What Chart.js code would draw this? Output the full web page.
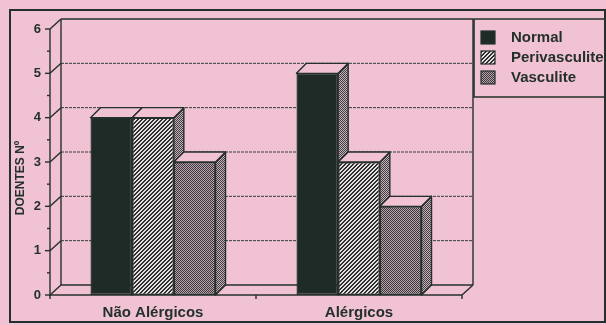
<!DOCTYPE html>
<html>
<head>
<meta charset="utf-8">
<script src="https://cdn.jsdelivr.net/npm/chart.js@4/dist/chart.umd.min.js"></script>
<style>
  html, body { margin: 0; padding: 0; background: #f0c3d3; }
  canvas { display: block; }
</style>
</head>
<body>
<canvas id="chart" width="606" height="325"></canvas>
<script>
// Patient counts per group
const categories = ['Não Alérgicos', 'Alérgicos'];
const seriesNames = ['Normal', 'Perivasculite', 'Vasculite'];
const normal = [4, 5];
const perivasculite = [4, 3];
const vasculite = [3, 2];
const yMin = 0;
const yMax = 6;
const yStep = 1;
const axisTitle = 'DOENTES Nº';

const PINK = '#f0c2d3';
const INK = '#24302b';
const FONT = '"Liberation Sans", Arial, Helvetica, sans-serif';
const WALL = { dx: 11, dy: -10 };   // depth of the back wall
const BAR = { dx: 10, dy: -10 };    // depth of each bar

function makePattern(size, paint) {
  const c = document.createElement('canvas');
  c.width = size; c.height = size;
  const g = c.getContext('2d');
  paint(g, size);
  return g.createPattern(c, 'repeat');
}
const ctx0 = document.getElementById('chart').getContext('2d');

// diagonal hatching
const hatch = makePattern(4, (g, s) => {
  g.fillStyle = '#eddbe2'; g.fillRect(0, 0, s, s);
  g.fillStyle = '#26322d';
  for (let x = 0; x < s; x++) for (let y = 0; y < s; y++)
    if ((x + y) % 4 < 2) g.fillRect(x, y, 1, 1);
});
// halftone stipple
function stipple(dark, light) {
  return makePattern(2, (g) => {
    g.fillStyle = light; g.fillRect(0, 0, 2, 2);
    g.fillStyle = dark; g.fillRect(0, 0, 1, 1); g.fillRect(1, 1, 1, 1);
  });
}
const dots = stipple('#363a39', '#bf9fb0');
const sideDots = stipple('#3d4240', '#cbaebd');

const fills = ['#1f2b26', hatch, dots];

const frame3d = {
  id: 'frame3d',
  beforeDraw(chart) {
    const ctx = chart.ctx;
    ctx.save();
    ctx.fillStyle = PINK;
    ctx.fillRect(0, 0, chart.width, chart.height);
    ctx.strokeStyle = INK;
    ctx.lineWidth = 2;
    ctx.strokeRect(10, 10, 595, 312);
    ctx.restore();
  },
  beforeDatasetsDraw(chart) {
    const ctx = chart.ctx;
    const ys = chart.scales.y;
    const { left, right, bottom } = chart.chartArea;
    const yTop = ys.getPixelForValue(yMax);
    const line = (x1, y1, x2, y2) => { ctx.beginPath(); ctx.moveTo(x1, y1); ctx.lineTo(x2, y2); ctx.stroke(); };

    ctx.save();
    ctx.strokeStyle = INK;
    ctx.lineWidth = 1.4;
    const bx0 = left + WALL.dx, bx1 = right + WALL.dx;
    // back wall outline
    line(bx0, yTop + WALL.dy, bx1, yTop + WALL.dy);
    line(bx0, yTop + WALL.dy, bx0, bottom + WALL.dy);
    line(bx1, yTop + WALL.dy, bx1, bottom + WALL.dy);
    line(bx0, bottom + WALL.dy, bx1, bottom + WALL.dy);
    // gridlines on the wall
    ctx.save();
    ctx.lineWidth = 1;
    ctx.strokeStyle = '#323d38';
    ctx.setLineDash([3, 1]);
    for (let v = yMin + yStep; v < yMax; v += yStep) {
      const py = ys.getPixelForValue(v) + WALL.dy;
      line(bx0, py, bx1, py);
    }
    ctx.restore();
    // front axis and connectors to the wall
    line(left, yTop, left, bottom + 1);
    for (let v = yMin; v <= yMax; v += yStep) {
      const py = ys.getPixelForValue(v);
      line(left, py, bx0, py + WALL.dy);
      line(left - 5, py, left, py);
      if (v < yMax) {
        const pm = ys.getPixelForValue(v + yStep / 2);
        line(left - 3, pm, left, pm);
      }
    }
    // floor
    line(left, bottom, right, bottom);
    line(right, bottom, bx1, bottom + WALL.dy);
    // category boundary ticks
    const step = (right - left) / categories.length;
    for (let i = 0; i <= categories.length; i++) {
      const px = left + step * i;
      line(px, bottom, px, bottom + 4);
    }
    ctx.restore();

    // bars, left to right, each with its side and top faces
    const metas = chart.data.datasets.map((d, i) => chart.getDatasetMeta(i));
    for (let j = 0; j < categories.length; j++) {
      metas.forEach((meta) => {
        const bar = meta.data[j];
        const { x, y, base, width } = bar.getProps(['x', 'y', 'base', 'width'], true);
        const l = x - width / 2, r = x + width / 2;
        bar.draw(ctx);
        ctx.save();
        ctx.strokeStyle = INK;
        ctx.lineWidth = 1.4;
        ctx.lineJoin = 'round';
        // side face
        ctx.beginPath();
        ctx.moveTo(r, y); ctx.lineTo(r + BAR.dx, y + BAR.dy);
        ctx.lineTo(r + BAR.dx, base + BAR.dy); ctx.lineTo(r, base);
        ctx.closePath();
        ctx.fillStyle = sideDots; ctx.fill(); ctx.stroke();
        // top face
        ctx.beginPath();
        ctx.moveTo(l, y); ctx.lineTo(r, y);
        ctx.lineTo(r + BAR.dx, y + BAR.dy); ctx.lineTo(l + BAR.dx, y + BAR.dy);
        ctx.closePath();
        ctx.fillStyle = PINK; ctx.fill(); ctx.stroke();
        ctx.restore();
      });
    }
    return false;
  },
  afterDraw(chart) {
    const ctx = chart.ctx;
    const { top } = chart.chartArea;
    ctx.save();
    // axis title
    ctx.fillStyle = INK;
    ctx.font = 'bold 12px ' + FONT;
    ctx.textAlign = 'center';
    ctx.textBaseline = 'middle';
    ctx.translate(21, 178);
    ctx.rotate(-Math.PI / 2);
    ctx.fillText(axisTitle, 0, 0);
    ctx.restore();

    // legend box
    ctx.save();
    ctx.strokeStyle = INK;
    ctx.lineWidth = 1.6;
    const lx = chart.chartArea.right + WALL.dx + 1;
    const ly = top + WALL.dy;
    ctx.beginPath();
    ctx.moveTo(606, ly); ctx.lineTo(lx, ly); ctx.lineTo(lx, 97); ctx.lineTo(606, 97);
    ctx.stroke();
    ctx.font = 'bold 15px ' + FONT;
    ctx.textAlign = 'left';
    ctx.textBaseline = 'middle';
    chart.data.datasets.forEach((d, i) => {
      const sy = 31 + i * 20;
      ctx.fillStyle = d.backgroundColor;
      ctx.fillRect(lx + 7, sy, 14, 13);
      ctx.lineWidth = 1.2;
      ctx.strokeRect(lx + 7, sy, 14, 13);
      ctx.fillStyle = INK;
      ctx.fillText(d.label, lx + 37, sy + 7);
    });
    ctx.restore();
  }
};

new Chart(ctx0, {
  type: 'bar',
  data: {
    labels: categories,
    datasets: [normal, perivasculite, vasculite].map((values, i) => ({
      label: seriesNames[i],
      data: values,
      backgroundColor: fills[i],
      borderColor: INK,
      borderWidth: 1.4,
      borderSkipped: false,
      categoryPercentage: 0.607,
      barPercentage: 1
    }))
  },
  options: {
    responsive: false,
    animation: false,
    events: [],
    layout: { padding: { top: 29, right: 144, left: 0, bottom: 0 } },
    plugins: { legend: { display: false }, tooltip: { enabled: false } },
    scales: {
      x: {
        grid: { display: false, drawTicks: false },
        border: { display: false },
        ticks: { color: INK, font: { family: FONT, size: 15, weight: 'bold' }, padding: 9 },
        afterFit: (s) => { s.height = 30; }
      },
      y: {
        min: yMin, max: yMax,
        grid: { display: false, drawTicks: false },
        border: { display: false },
        ticks: { stepSize: yStep, color: INK, font: { family: FONT, size: 13, weight: 'bold' }, padding: 9 },
        afterFit: (s) => { s.width = 50; }
      }
    }
  },
  plugins: [frame3d]
});
</script>
</body>
</html>
